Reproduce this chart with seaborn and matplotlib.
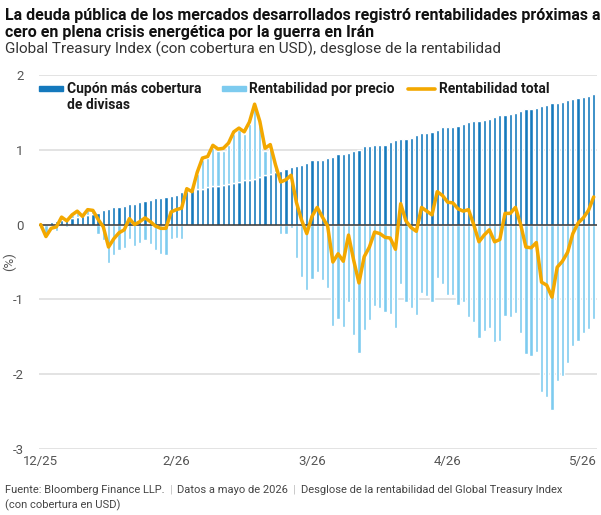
import seaborn as sns
import matplotlib.pyplot as plt
import matplotlib.patches as mpatches
from matplotlib.lines import Line2D
import numpy as np

# daily values, Dec 2025 -> May 2026 (%, cumulative)
coupon = [0.00, 0.01, 0.04, 0.05, 0.06, 0.07, 0.09, 0.10, 0.11, 0.13,
          0.14, 0.16, 0.19, 0.21, 0.23, 0.24, 0.25, 0.27, 0.28, 0.30,
          0.31, 0.33, 0.35, 0.36, 0.37, 0.38, 0.40, 0.43, 0.45, 0.46,
          0.47, 0.48, 0.50, 0.51, 0.52, 0.53, 0.54, 0.56, 0.57, 0.59,
          0.60, 0.61, 0.63, 0.66, 0.68, 0.70, 0.71, 0.74, 0.77, 0.78,
          0.80, 0.83, 0.86, 0.87, 0.87, 0.89, 0.91, 0.94, 0.95, 0.96,
          0.98, 1.00, 1.05, 1.05, 1.06, 1.07, 1.07, 1.11, 1.13, 1.15,
          1.15, 1.16, 1.20, 1.22, 1.23, 1.24, 1.26, 1.30, 1.31, 1.31,
          1.32, 1.34, 1.37, 1.38, 1.39, 1.40, 1.41, 1.44, 1.46, 1.47,
          1.48, 1.49, 1.52, 1.54, 1.55, 1.56, 1.58, 1.60, 1.62, 1.63,
          1.64, 1.66, 1.68, 1.69, 1.70, 1.72, 1.75]

price = [0.00, -0.13, -0.02, -0.08, 0.04, -0.03, 0.04, 0.07, -0.02, 0.06,
         0.04, -0.12, -0.21, -0.52, -0.41, -0.34, -0.31, -0.19, -0.28, -0.25,
         -0.21, -0.26, -0.34, -0.39, -0.40, -0.19, -0.18, -0.19, 0.03, -0.02,
         0.21, 0.38, 0.39, 0.52, 0.46, 0.46, 0.52, 0.65, 0.69, 0.62,
         0.74, 0.97, 0.72, 0.33, 0.36, 0.08, -0.12, -0.13, -0.05, -0.44,
         -0.70, -0.88, -0.73, -0.63, -0.74, -0.85, -1.35, -1.26, -1.37, -1.03,
         -1.47, -1.72, -1.41, -1.27, -1.09, -1.12, -1.17, -1.20, -1.38, -0.80,
         -1.04, -1.12, -1.21, -0.92, -0.96, -1.03, -0.72, -0.80, -0.94, -0.94,
         -1.07, -1.04, -1.23, -1.30, -1.52, -1.42, -1.38, -1.57, -1.56, -1.22,
         -1.23, -1.18, -1.45, -1.73, -1.76, -1.70, -2.24, -2.31, -2.48, -2.09,
         -2.02, -1.85, -1.62, -1.55, -1.45, -1.40, -1.26]

total = [0.00, -0.16, -0.05, -0.03, 0.10, 0.05, 0.13, 0.18, 0.11, 0.20,
         0.19, 0.07, -0.03, -0.30, -0.19, -0.11, -0.07, 0.08, 0.00, 0.04,
         0.09, 0.04, -0.02, -0.05, -0.05, 0.17, 0.20, 0.22, 0.48, 0.44,
         0.70, 0.89, 0.91, 1.06, 1.01, 1.02, 1.09, 1.24, 1.29, 1.24,
         1.37, 1.61, 1.38, 1.02, 1.07, 0.80, 0.57, 0.60, 0.66, 0.30,
         0.06, -0.12, 0.11, 0.23, 0.10, -0.02, -0.50, -0.39, -0.49, -0.14,
         -0.48, -0.78, -0.43, -0.30, -0.10, -0.12, -0.17, -0.18, -0.33, 0.28,
         0.05, -0.04, -0.09, 0.23, 0.18, 0.13, 0.44, 0.39, 0.30, 0.29,
         0.21, 0.18, 0.20, 0.00, -0.23, -0.14, -0.07, -0.23, -0.20, 0.15,
         0.15, 0.23, 0.00, -0.30, -0.31, -0.24, -0.77, -0.81, -0.97, -0.57,
         -0.49, -0.37, -0.12, 0.02, 0.09, 0.19, 0.37]

tick_pos = [0, 26, 52, 78, 104]
tick_labels = ["12/25", "2/26", "3/26", "4/26", "5/26"]

footer_parts = ["Fuente: Bloomberg Finance LLP.", "Datos a mayo de 2026",
                "Desglose de la rentabilidad del Global Treasury Index"]

dark_blue = "#1479bd"
light_blue = "#7dcbef"
orange = "#f3a800"

sns.set_theme(style="white")
plt.rcParams['font.family'] = ['Roboto', 'DejaVu Sans']

x = np.arange(len(coupon))
price = np.array(price)
coupon = np.array(coupon)

fig = plt.figure(figsize=(6.01, 5.15), dpi=100)
ax = fig.add_axes([39/601, 1-449/515, (597-39)/601, (449-75)/515])

for v in [-3, -2, -1, 1, 2]:
    ax.axhline(v, color="#dedede", lw=1.2, zorder=0)

sns.barplot(x=x, y=coupon, color=dark_blue, width=0.62, saturation=1, ax=ax, zorder=2)
ax.bar(x, price, bottom=np.where(price > 0, coupon, 0), width=0.62,
       color=light_blue, zorder=2)
ax.axhline(0, color="#333333", lw=1.1, zorder=3)
sns.lineplot(x=x, y=total, color=orange, lw=2.5, ax=ax, zorder=4)

ax.set_xlim(-0.33, 106.63)
ax.set_ylim(-3, 2)
ax.set_yticks([-3, -2, -1, 0, 1, 2])
ax.set_yticklabels(["-3", "-2", "-1", "0", "1", "2"])
ax.set_xticks(tick_pos)
ax.set_xticklabels(tick_labels)
ax.tick_params(axis="both", length=0, labelsize=9.5, labelcolor="#555555", pad=4)
ax.tick_params(axis="y", pad=11)
ax.set_xlabel("")
ax.set_ylabel("(%)", fontsize=9.5, color="#555555")
ax.yaxis.set_label_coords(-0.041, 0.5)
for s in ax.spines.values():
    s.set_visible(False)

# legend drawn by hand
fig.patches.append(mpatches.Rectangle((39/601, 1-91/515), 24/601, 5/515,
                                      color=dark_blue, transform=fig.transFigure))
fig.text(67/601, 1-82/515, "Cupón más cobertura\nde divisas", fontsize=10,
         weight="bold", color="#1a1a1a", va="top", linespacing=1.2)
fig.patches.append(mpatches.Rectangle((222/601, 1-91/515), 24/601, 5/515,
                                      color=light_blue, transform=fig.transFigure))
fig.text(249/601, 1-82/515, "Rentabilidad por precio", fontsize=10,
         weight="bold", color="#1a1a1a", va="top")
fig.lines.append(Line2D([408/601, 435/601], [1-89/515, 1-89/515], color=orange,
                        lw=2.6, transform=fig.transFigure))
fig.text(439/601, 1-82/515, "Rentabilidad total", fontsize=10,
         weight="bold", color="#1a1a1a", va="top")

fig.text(5/601, 1-20/515, "La deuda pública de los mercados desarrollados registró rentabilidades próximas a",
         fontsize=11.5, weight="bold", color="#111111", va="baseline")
fig.text(5/601, 1-37/515, "cero en plena crisis energética por la guerra en Irán",
         fontsize=11.5, weight="bold", color="#111111", va="baseline")
fig.text(5/601, 1-54/515, "Global Treasury Index (con cobertura en USD), desglose de la rentabilidad",
         fontsize=11, color="#333333", va="baseline")

# footer: pieces laid out one after another with light separators
fig.canvas.draw()
r = fig.canvas.get_renderer()
xpos = 5
for i, part in enumerate(footer_parts):
    t = fig.text(xpos/601, 1-493/515, part, fontsize=8, color="#444444", va="baseline")
    xpos = t.get_window_extent(r).x1 + 5
    if i < len(footer_parts) - 1:
        s = fig.text(xpos/601, 1-493/515, "|", fontsize=8, color="#bbbbbb", va="baseline")
        xpos = s.get_window_extent(r).x1 + 5
fig.text(5/601, 1-508/515, "(con cobertura en USD)", fontsize=8,
         color="#444444", va="baseline")

fig.savefig("out.png", dpi=100)
